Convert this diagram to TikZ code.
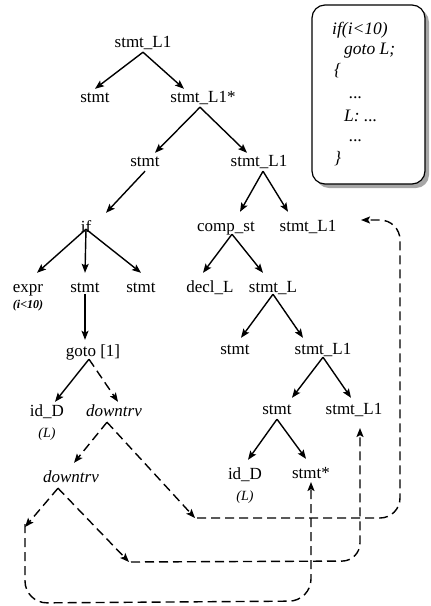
\documentclass[tikz,border=0pt]{standalone}
\usepackage{fontspec}
\setmainfont{Liberation Serif}
\usetikzlibrary{arrows.meta}
\tikzset{
  lbl/.style={inner sep=1.5pt, text height=12pt, text depth=3pt, font=\fontsize{17}{19}\selectfont},
  ilbl/.style={lbl, font=\fontsize{17}{19}\selectfont\itshape},
  sub/.style={inner sep=1pt, font=\fontsize{12}{14}\selectfont\itshape\bfseries},
  subL/.style={inner sep=1pt, font=\fontsize{14}{16}\selectfont\itshape},
  tip/.style={-{Stealth[length=9pt,width=7pt,inset=1.8pt]}},
  edge/.style={line width=1.4pt, tip},
  dedge/.style={edge, dash pattern=on 9pt off 5pt},
  dline/.style={line width=1.4pt, dash pattern=on 9pt off 5pt},
  code/.style={inner sep=0pt, anchor=west, text height=11pt, text depth=2pt, font=\fontsize{17.5}{19}\selectfont\itshape}
}
\begin{document}
\begin{tikzpicture}[x=1pt,y=-1pt]
\useasboundingbox (0,0) rectangle (431,606);
% code box
\fill[gray!70, rounded corners=13pt] (316,9) rectangle (429,188);
\draw[line width=1.2pt, fill=white, rounded corners=13pt] (312,5) rectangle (425,184);
\node[code] (c1t) at (332,30) {if(i<10)};
\node[code] (c2t) at (344,50) {goto L;};
\node[code] (c3t) at (334,71) {\{};
\node[code] (c4t) at (349,94) {...};
\node[code] (c5t) at (344,117) {L: ...};
\node[code] (c6t) at (349,137) {...};
\node[code] (c7t) at (334,159) {\}};
% tree nodes
\node[lbl] (root) at (143,43) {stmt\_L1};
\node[lbl] (s2a) at (95,98) {stmt};
\node[lbl] (s2b) at (203,98) {stmt\_L1*};
\node[lbl] (s3a) at (145,162) {stmt};
\node[lbl] (s3b) at (259,162) {stmt\_L1};
\node[lbl] (if) at (86,228) {if};
\node[lbl] (comp) at (226,227) {comp\_st};
\node[lbl] (sR) at (308,227) {stmt\_L1};
\node[lbl] (expr) at (28,288) {expr};
\node[sub] (exprs) at (28,306) {(i<10)};
\node[lbl] (s4a) at (85,288) {stmt};
\node[lbl] (s4b) at (141,288) {stmt};
\node[lbl] (decl) at (210,288) {decl\_L};
\node[lbl] (stL) at (273,288) {stmt\_L};
\node[lbl] (goto) at (93,352) {goto [1]};
\node[lbl] (s5) at (235,350) {stmt};
\node[lbl] (s5b) at (323,350) {stmt\_L1};
\node[lbl] (idD) at (47,412) {id\_D};
\node[subL] (idDs) at (47,434) {(L)};
\node[ilbl] (dt1) at (114,412) {downtrv};
\node[lbl] (s6) at (277,410) {stmt};
\node[lbl] (s6b) at (354,410) {stmt\_L1};
\node[ilbl] (dt2) at (71,478) {downtrv};
\node[lbl] (idD2) at (245,475) {id\_D};
\node[subL] (idD2s) at (245,497) {(L)};
\node[lbl] (star) at (311,474) {stmt*};
% free ends
\coordinate (e1) at (195,518);
\coordinate (e2) at (25,527);
\coordinate (e3) at (129,562);
\coordinate (aR) at (361,220);
\coordinate (aL) at (360,428);
\coordinate (aS) at (311,482);
% solid edges
\draw[edge] (root.south) -- (s2a.north);
\draw[edge] (root.south) -- ([xshift=-19pt]s2b.north);
\draw[edge] ([xshift=-3pt]s2b.south) -- ([xshift=10pt]s3a.north);
\draw[edge] ([xshift=-3pt]s2b.south) -- ([xshift=-12pt]s3b.north);
\draw[edge] (s3a.south) -- ([xshift=20pt,yshift=6pt]if.north);
\draw[edge] ([xshift=4pt]s3b.south) -- ([xshift=14pt,yshift=6pt]comp.north);
\draw[edge] ([xshift=4pt]s3b.south) -- ([xshift=-20pt,yshift=6pt]sR.north);
\draw[edge] ([yshift=8pt]if.south) -- ([xshift=9pt,yshift=6pt]expr.north);
\draw[edge] ([yshift=8pt]if.south) -- ([yshift=6pt]s4a.north);
\draw[edge] ([yshift=8pt]if.south) -- ([yshift=6pt]s4b.north);
\draw[edge] ([xshift=6pt,yshift=2pt]comp.south) -- ([xshift=-7pt,yshift=6pt]decl.north);
\draw[edge] ([xshift=6pt,yshift=2pt]comp.south) -- ([xshift=-10pt,yshift=6pt]stL.north);
\draw[edge] ([yshift=3pt]stL.south) -- ([xshift=6pt,yshift=3pt]s5.north);
\draw[edge] ([yshift=3pt]stL.south) -- ([xshift=-20pt,yshift=3pt]s5b.north);
\draw[edge] ([yshift=3pt]s4a.south) -- ([xshift=-8pt,yshift=3pt]goto.north);
\draw[edge] ([xshift=-4pt,yshift=2pt]goto.south) -- ([xshift=8pt,yshift=1pt]idD.north);
\draw[dedge] ([xshift=-4pt,yshift=2pt]goto.south) -- ([xshift=4pt,yshift=1pt]dt1.north);
\draw[edge] ([yshift=2pt]s5b.south) -- ([xshift=15pt,yshift=3pt]s6.north);
\draw[edge] ([yshift=2pt]s5b.south) -- ([xshift=-3pt,yshift=3pt]s6b.north);
\draw[edge] (s6.south) -- ([xshift=3pt,yshift=6pt]idD2.north);
\draw[edge] (s6.south) -- ([xshift=-5pt,yshift=6pt]star.north);
% dashed traversal
\draw[dedge] ([xshift=-7pt,yshift=-1pt]dt1.south) -- ([xshift=3pt,yshift=6pt]dt2.north);
\draw[dedge] ([xshift=-7pt,yshift=-1pt]dt1.south) -- (e1);
\draw[dedge] ([xshift=-13pt,yshift=-1pt]dt2.south) -- (e2);
\draw[dedge] ([xshift=-13pt,yshift=-1pt]dt2.south) -- (e3);
\draw[dline, tip, rounded corners=20pt] ([xshift=2pt]e1) -- (400,518) -- (400,220) -- (aR);
\draw[dline, tip, rounded corners=22pt] ([yshift=3pt]e2) -- (25,603) -- (311,601) -- (aS);
\draw[dline, tip, rounded corners=18pt] ([xshift=2pt]e3) -- (360,561) -- (aL);
\end{tikzpicture}
\end{document}
